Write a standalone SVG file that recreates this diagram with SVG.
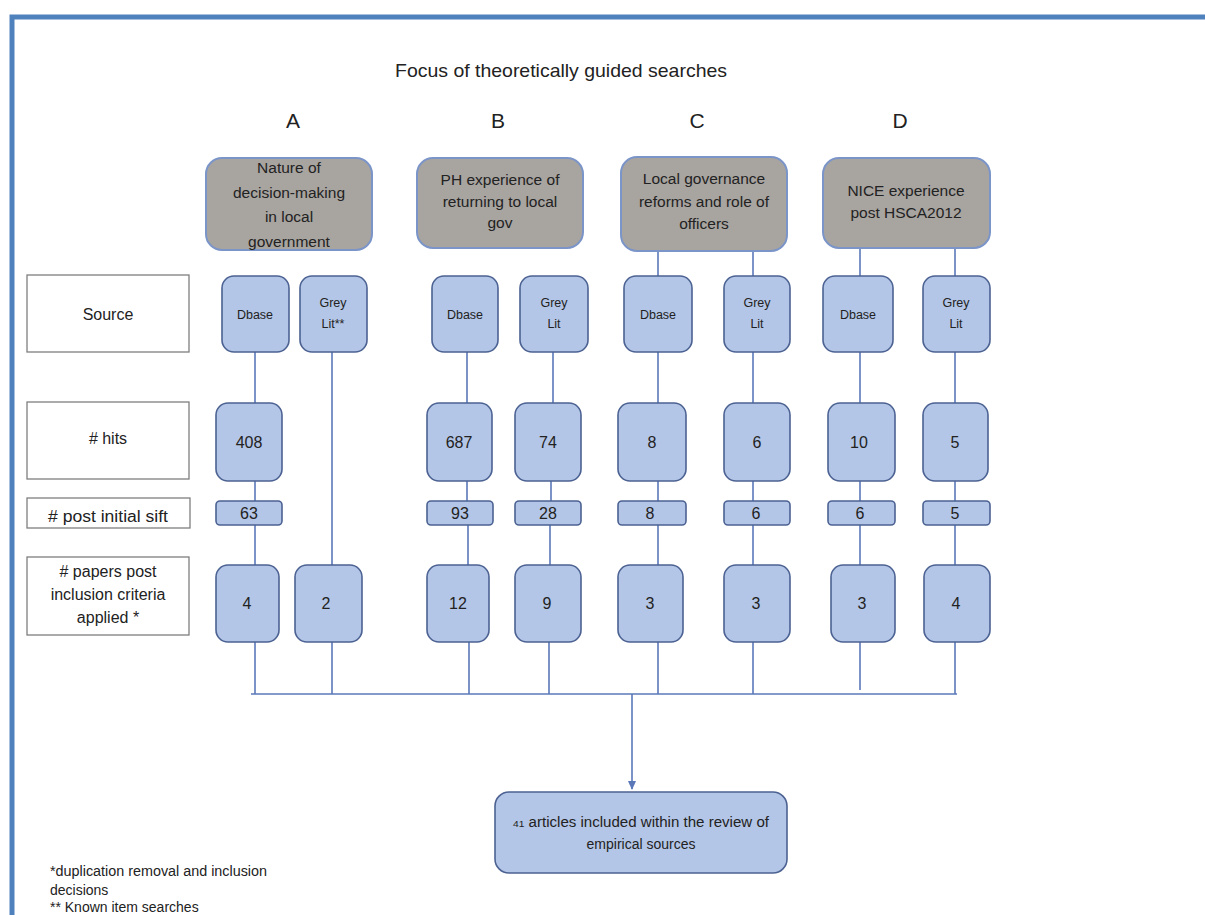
<svg xmlns="http://www.w3.org/2000/svg" width="1205" height="915" viewBox="0 0 1205 915">
  <defs>
    <style>
      text { font-family: "Liberation Sans", Arial, sans-serif; fill: #222222; text-anchor: middle; }
      .frame { fill: none; stroke: #4f81bd; stroke-width: 5; }
      .topic { fill: #a8a4a0; stroke: #7b95c9; stroke-width: 2; }
      .step { fill: #b4c6e7; stroke: #4c6292; stroke-width: 1.6; }
      .label { fill: #ffffff; stroke: #7f7f7f; stroke-width: 1.3; }
      .link { fill: none; stroke: #5a78b8; stroke-width: 1.6; }
      .t-title { font-size: 19px; }
      .t-letter { font-size: 21px; }
      .t-topic { font-size: 15.5px; }
      .t-src { font-size: 12.5px; }
      .t-num { font-size: 16px; }
      .t-lab { font-size: 16px; }
      .t-note { font-size: 14px; text-anchor: start; }
    </style>
    <marker id="arrow" markerWidth="10" markerHeight="10" refX="8" refY="5" orient="auto" markerUnits="userSpaceOnUse">
      <path d="M0,1 L9,5 L0,9 Z" fill="#5a78b8"/>
    </marker>
  </defs>

  <rect width="1205" height="915" fill="#ffffff"/>
  <path class="frame" d="M12,915 V17 H1205"/>

  <!-- headings -->
  <g id="title">
    <text class="t-title" x="561" y="77" textLength="332" lengthAdjust="spacingAndGlyphs">Focus of theoretically guided searches</text>
  </g>
  <g id="column-letters">
    <text class="t-letter" x="293" y="128">A</text>
    <text class="t-letter" x="498" y="128">B</text>
    <text class="t-letter" x="697" y="128">C</text>
    <text class="t-letter" x="900" y="128">D</text>
  </g>

  <!-- connectors -->
  <g id="connectors">
    <!-- column A -->
    <path class="link" d="M255,352 V694"/>
    <path class="link" d="M332,352 V694"/>
    <!-- column B -->
    <path class="link" d="M467,352 V403 M467,481 V501 M468,525 V565 M469,642 V694"/>
    <path class="link" d="M553,352 V403 M551,481 V501 M550,525 V565 M549,642 V694"/>
    <!-- column C -->
    <path class="link" d="M658,251 V694"/>
    <path class="link" d="M753,251 V694"/>
    <!-- column D -->
    <path class="link" d="M860,248 V690"/>
    <path class="link" d="M955,248 V694"/>
    <!-- collecting bar and arrow to result -->
    <path class="link" d="M251,694 H957"/>
    <path class="link" d="M632,694 V789" marker-end="url(#arrow)"/>
  </g>

  <!-- row labels -->
  <g id="label-source">
    <rect class="label" x="27" y="275" width="162" height="77"/>
    <text class="t-lab" x="108" y="320">Source</text>
  </g>
  <g id="label-hits">
    <rect class="label" x="27" y="402" width="162" height="77"/>
    <text class="t-lab" x="108" y="444"># hits</text>
  </g>
  <g id="label-sift">
    <rect class="label" x="27" y="498" width="163" height="30"/>
    <text class="t-lab" x="108" y="522" textLength="120" lengthAdjust="spacingAndGlyphs"># post initial sift</text>
  </g>
  <g id="label-papers">
    <rect class="label" x="27" y="557" width="162" height="78"/>
    <text class="t-lab" x="108" y="577"># papers post</text>
    <text class="t-lab" x="108" y="600">inclusion criteria</text>
    <text class="t-lab" x="108" y="623">applied *</text>
  </g>

  <!-- topic headers -->
  <g id="topic-a">
    <rect class="topic" x="206" y="158" width="166" height="92" rx="16"/>
    <text class="t-topic" x="289" y="173" font-size="16.5">Nature of</text>
    <text class="t-topic" x="289" y="198" font-size="16.5">decision-making</text>
    <text class="t-topic" x="289" y="222" font-size="16.5">in local</text>
    <text class="t-topic" x="289" y="247" font-size="16.5">government</text>
  </g>
  <g id="topic-b">
    <rect class="topic" x="417" y="158" width="166" height="90" rx="16"/>
    <text class="t-topic" x="500" y="185">PH experience of</text>
    <text class="t-topic" x="500" y="207">returning to local</text>
    <text class="t-topic" x="500" y="228">gov</text>
  </g>
  <g id="topic-c">
    <rect class="topic" x="621" y="157" width="166" height="94" rx="16"/>
    <text class="t-topic" x="704" y="184">Local governance</text>
    <text class="t-topic" x="704" y="207">reforms and role of</text>
    <text class="t-topic" x="704" y="229">officers</text>
  </g>
  <g id="topic-d">
    <rect class="topic" x="823" y="158" width="167" height="90" rx="16"/>
    <text class="t-topic" x="906" y="196" font-size="14.5">NICE experience</text>
    <text class="t-topic" x="906" y="218" font-size="14.5">post HSCA2012</text>
  </g>

  <!-- source row -->
  <g id="src-a-dbase">
    <rect class="step" x="222" y="276" width="67" height="76" rx="12"/>
    <text class="t-src" x="255" y="319">Dbase</text>
  </g>
  <g id="src-a-grey">
    <rect class="step" x="300" y="276" width="67" height="76" rx="12"/>
    <text class="t-src" x="333" y="307">Grey</text>
    <text class="t-src" x="333" y="328">Lit**</text>
  </g>
  <g id="src-b-dbase">
    <rect class="step" x="432" y="276" width="66" height="76" rx="12"/>
    <text class="t-src" x="465" y="319">Dbase</text>
  </g>
  <g id="src-b-grey">
    <rect class="step" x="520" y="276" width="68" height="76" rx="12"/>
    <text class="t-src" x="554" y="307">Grey</text>
    <text class="t-src" x="554" y="328">Lit</text>
  </g>
  <g id="src-c-dbase">
    <rect class="step" x="624" y="276" width="68" height="76" rx="12"/>
    <text class="t-src" x="658" y="319">Dbase</text>
  </g>
  <g id="src-c-grey">
    <rect class="step" x="724" y="276" width="66" height="76" rx="12"/>
    <text class="t-src" x="757" y="307">Grey</text>
    <text class="t-src" x="757" y="328">Lit</text>
  </g>
  <g id="src-d-dbase">
    <rect class="step" x="823" y="276" width="70" height="76" rx="12"/>
    <text class="t-src" x="858" y="319">Dbase</text>
  </g>
  <g id="src-d-grey">
    <rect class="step" x="923" y="276" width="67" height="76" rx="12"/>
    <text class="t-src" x="956" y="307">Grey</text>
    <text class="t-src" x="956" y="328">Lit</text>
  </g>

  <!-- hits row -->
  <g id="hits-a-dbase">
    <rect class="step" x="216" y="403" width="66" height="78" rx="12"/>
    <text class="t-num" x="249" y="448">408</text>
  </g>
  <g id="hits-b-dbase">
    <rect class="step" x="427" y="403" width="65" height="78" rx="12"/>
    <text class="t-num" x="459" y="448">687</text>
  </g>
  <g id="hits-b-grey">
    <rect class="step" x="515" y="403" width="66" height="78" rx="12"/>
    <text class="t-num" x="548" y="448">74</text>
  </g>
  <g id="hits-c-dbase">
    <rect class="step" x="618" y="403" width="68" height="78" rx="12"/>
    <text class="t-num" x="652" y="448">8</text>
  </g>
  <g id="hits-c-grey">
    <rect class="step" x="724" y="403" width="66" height="78" rx="12"/>
    <text class="t-num" x="757" y="448">6</text>
  </g>
  <g id="hits-d-dbase">
    <rect class="step" x="828" y="403" width="67" height="78" rx="12"/>
    <text class="t-num" x="859" y="448">10</text>
  </g>
  <g id="hits-d-grey">
    <rect class="step" x="923" y="403" width="65" height="78" rx="12"/>
    <text class="t-num" x="955" y="448">5</text>
  </g>

  <!-- post initial sift row -->
  <g id="sift-a-dbase">
    <rect class="step" x="216" y="501" width="66" height="24" rx="4"/>
    <text class="t-num" x="249" y="519">63</text>
  </g>
  <g id="sift-b-dbase">
    <rect class="step" x="427" y="501" width="66" height="24" rx="4"/>
    <text class="t-num" x="460" y="519">93</text>
  </g>
  <g id="sift-b-grey">
    <rect class="step" x="515" y="501" width="66" height="24" rx="4"/>
    <text class="t-num" x="548" y="519">28</text>
  </g>
  <g id="sift-c-dbase">
    <rect class="step" x="618" y="501" width="68" height="24" rx="4"/>
    <text class="t-num" x="650" y="519">8</text>
  </g>
  <g id="sift-c-grey">
    <rect class="step" x="724" y="501" width="66" height="24" rx="4"/>
    <text class="t-num" x="756" y="519">6</text>
  </g>
  <g id="sift-d-dbase">
    <rect class="step" x="828" y="501" width="67" height="24" rx="4"/>
    <text class="t-num" x="860" y="519">6</text>
  </g>
  <g id="sift-d-grey">
    <rect class="step" x="923" y="501" width="67" height="24" rx="4"/>
    <text class="t-num" x="955" y="519">5</text>
  </g>

  <!-- papers after inclusion criteria row -->
  <g id="papers-a-dbase">
    <rect class="step" x="216" y="565" width="63" height="77" rx="12"/>
    <text class="t-num" x="247" y="609">4</text>
  </g>
  <g id="papers-a-grey">
    <rect class="step" x="295" y="565" width="67" height="77" rx="12"/>
    <text class="t-num" x="326" y="609">2</text>
  </g>
  <g id="papers-b-dbase">
    <rect class="step" x="427" y="565" width="62" height="77" rx="12"/>
    <text class="t-num" x="458" y="609">12</text>
  </g>
  <g id="papers-b-grey">
    <rect class="step" x="515" y="565" width="66" height="77" rx="12"/>
    <text class="t-num" x="547" y="609">9</text>
  </g>
  <g id="papers-c-dbase">
    <rect class="step" x="618" y="565" width="65" height="77" rx="12"/>
    <text class="t-num" x="650" y="609">3</text>
  </g>
  <g id="papers-c-grey">
    <rect class="step" x="724" y="565" width="66" height="77" rx="12"/>
    <text class="t-num" x="756" y="609">3</text>
  </g>
  <g id="papers-d-dbase">
    <rect class="step" x="831" y="565" width="64" height="77" rx="12"/>
    <text class="t-num" x="862" y="609">3</text>
  </g>
  <g id="papers-d-grey">
    <rect class="step" x="924" y="565" width="66" height="77" rx="12"/>
    <text class="t-num" x="956" y="609">4</text>
  </g>

  <!-- result -->
  <g id="result">
    <rect class="step" x="495" y="792" width="292" height="81" rx="14"/>
    <text x="641" y="827" font-size="14" textLength="256" lengthAdjust="spacingAndGlyphs"><tspan font-size="9.5">41</tspan> articles included within the review of</text>
    <text x="641" y="849" font-size="14">empirical sources</text>
  </g>

  <!-- footnotes -->
  <g id="footnotes">
    <text class="t-note" x="50" y="876" textLength="217" lengthAdjust="spacingAndGlyphs">*duplication removal and inclusion</text>
    <text class="t-note" x="50" y="895">decisions</text>
    <text class="t-note" x="50" y="912">** Known item searches</text>
  </g>
</svg>
